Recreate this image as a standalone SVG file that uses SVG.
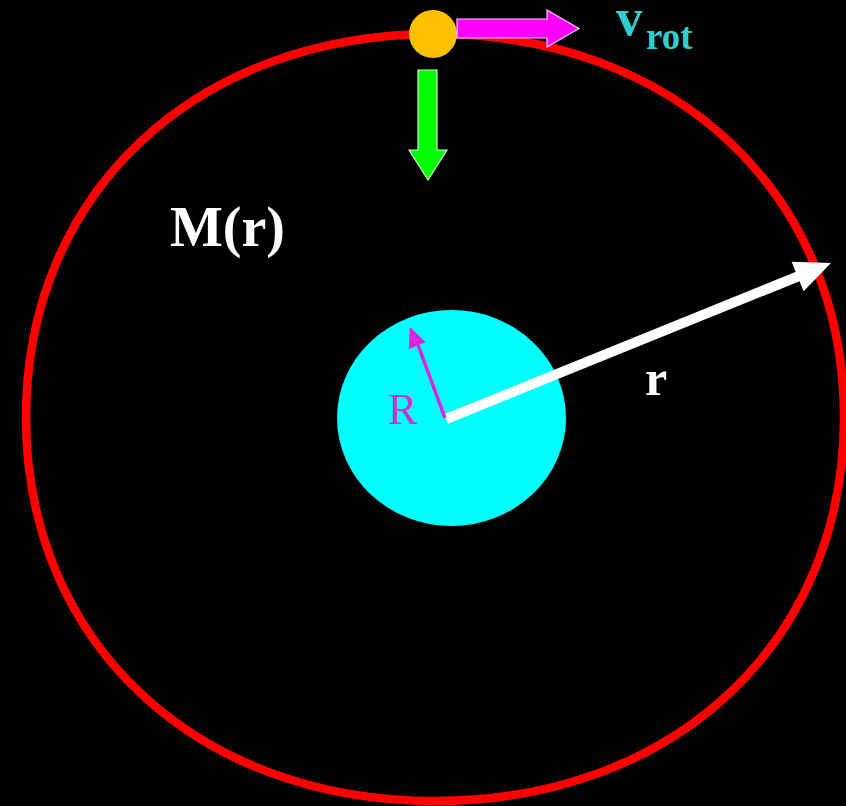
<svg xmlns="http://www.w3.org/2000/svg" width="846" height="806" viewBox="0 0 846 806">
<style>
.serif{font-family:"Liberation Serif","Times New Roman",serif}
.b{font-weight:bold}
</style>
<rect width="846" height="806" fill="#000"/>
<g id="orbit">
<path d="M 844 417.5 C 844 641.8 674.3 801 435 801 C 195.7 801 26 641.8 26 417.5 C 26 193.2 195.7 34 435 34 C 674.3 34 844 193.2 844 417.5 Z" fill="none" stroke="#ff0000" stroke-width="8.5"/>
</g>
<g id="core">
<ellipse cx="451.5" cy="418" rx="114.5" ry="108" fill="#00ffff"/>
</g>
<g id="star">
<circle cx="433" cy="34" r="24" fill="#ffc000"/>
</g>
<g id="connectors">
<polygon points="457,19 547,19 547,10 579,28.5 547,47 547,38 457,38" fill="#ff00ff" stroke="#ffccff" stroke-width="1.2"/>
<polygon points="418,70 437,70 437,150 447,150 428,180 409,150 418,150" fill="#00ff00" stroke="#ccffcc" stroke-width="1.2"/>
<line x1="446" y1="419" x2="799" y2="276" stroke="#ffffff" stroke-width="10"/>
<polygon points="831,263 803.6,291.3 791.6,261.7" fill="#ffffff"/>
<line x1="445" y1="418" x2="418" y2="345" stroke="#dd22dd" stroke-width="3.5"/>
<polygon points="410,327 425.6,342.3 408.8,348.9" fill="#dd22dd"/>
</g>
<g id="labels">
<text class="serif b" x="170" y="246" font-size="56" fill="#ffffff">M(r)</text>
<text class="serif b" x="616" y="35" font-size="53" fill="#33cccc">v<tspan x="646" y="49" font-size="37">rot</tspan></text>
<text class="serif b" x="645" y="395" font-size="50" fill="#ffffff">r</text>
<text class="serif" x="388" y="424" font-size="44" fill="#cc33cc">R</text>
</g>
</svg>
